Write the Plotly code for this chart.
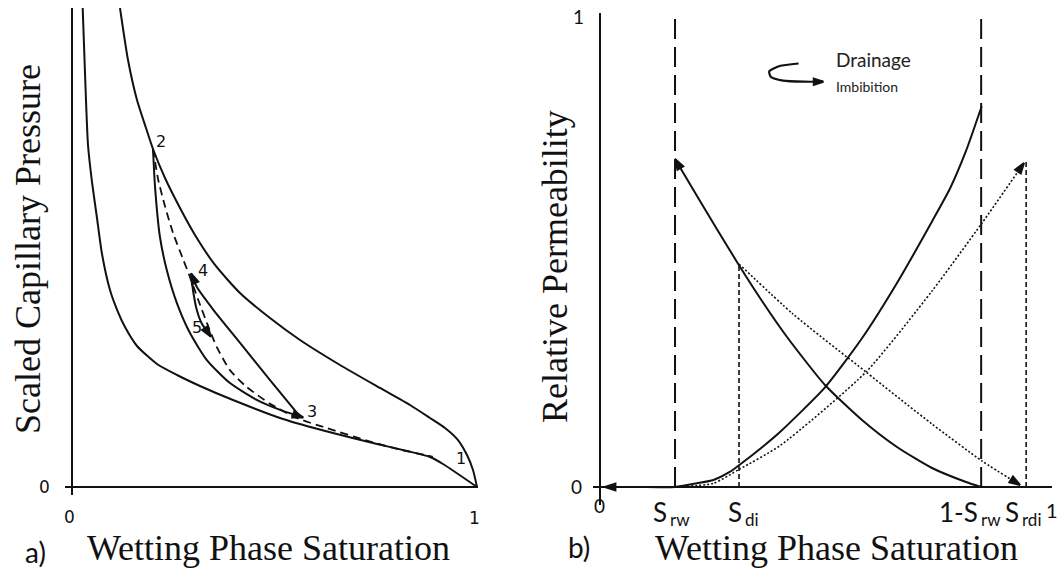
import plotly.graph_objects as go

# ---------------- data: panel a (scaled capillary pressure) ----------------
pc_imb_bound_x = [0.0264, 0.032, 0.0395, 0.0494, 0.0617, 0.0741, 0.0938, 0.1136, 0.1309, 0.1605,
                  0.2099, 0.2593, 0.3160, 0.3975, 0.5210, 0.6444, 0.7531, 0.8272, 0.8840, 0.9160, 1.0]
pc_imb_bound_y = [1.0, 0.8664, 0.7140, 0.6367, 0.5616, 0.4864, 0.4113, 0.3653, 0.3340, 0.2944,
                  0.2568, 0.2338, 0.2109, 0.1816, 0.1420, 0.1127, 0.0898, 0.0752, 0.0626, 0.0480, 0.0]

pc_drain_bound_x = [0.1185, 0.1383, 0.1605, 0.1827, 0.2000, 0.2296, 0.2667, 0.3037, 0.3531, 0.4148,
                    0.4889, 0.5630, 0.6617, 0.7605, 0.8346, 0.8840, 0.9210, 0.9531, 0.9753, 0.9901, 1.0]
pc_drain_bound_y = [1.0, 0.8914, 0.8079, 0.7495, 0.7056, 0.6451, 0.5825, 0.5261, 0.4635, 0.4050,
                    0.3528, 0.3069, 0.2547, 0.2067, 0.1712, 0.1441, 0.1232, 0.0981, 0.0668, 0.0355, 0.0]

scan_2_3_x = [0.200, 0.205, 0.217, 0.234, 0.259, 0.291, 0.333, 0.390, 0.456, 0.514, 0.571]
scan_2_3_y = [0.7056, 0.627, 0.523, 0.453, 0.384, 0.322, 0.265, 0.217, 0.182, 0.161, 0.145]

scan_dash_x = [0.200, 0.213, 0.230, 0.250, 0.275, 0.291, 0.312, 0.337, 0.357, 0.390, 0.431, 0.489,
               0.555, 0.629, 0.728, 0.810, 0.876, 0.891]
scan_dash_y = [0.7056, 0.641, 0.585, 0.529, 0.474, 0.439, 0.390, 0.334, 0.293, 0.244, 0.209, 0.174,
               0.144, 0.123, 0.097, 0.078, 0.066, 0.063]

scan_3_4_x = [0.563, 0.489, 0.415, 0.349, 0.308, 0.294]
scan_3_4_y = [0.147, 0.223, 0.301, 0.370, 0.418, 0.446]

scan_4_5_x = [0.294, 0.300, 0.308, 0.320, 0.343]
scan_4_5_y = [0.440, 0.404, 0.370, 0.342, 0.314]

point_labels = ["1", "2", "3", "4", "5"]
point_label_x = [0.9605, 0.2198, 0.5926, 0.3235, 0.3086]
point_label_y = [0.0585, 0.722, 0.1566, 0.451, 0.334]

# ---------------- data: panel b (relative permeability) ----------------
S_rw = 0.1667
S_di = 0.3089
one_minus_S_rw = 0.847
S_rdi = 0.947
kr_top_Sdi = 0.4745
kr_top_Srdi = 0.697

kr_nw_drain_x = [0.1667, 0.2222, 0.3044, 0.3556, 0.4156, 0.5000, 0.5822, 0.6600, 0.7378, 0.8133, 0.8467]
kr_nw_drain_y = [0.6979, 0.6085, 0.4787, 0.4021, 0.3191, 0.2170, 0.1426, 0.0851, 0.0404, 0.0106, 0.0]

kr_w_drain_x = [0.011, 0.08, 0.1667, 0.215, 0.252, 0.289, 0.3096, 0.363, 0.400, 0.5000, 0.5822,
                0.6600, 0.7378, 0.7778, 0.8133, 0.8482]
kr_w_drain_y = [0.0, 0.0, 0.0, 0.0079, 0.0149, 0.0326, 0.0468, 0.0868, 0.1170, 0.2120, 0.3164,
                0.4340, 0.5650, 0.6350, 0.7150, 0.8102]

kr_w_imb_x = [0.1667, 0.252, 0.3096, 0.400, 0.5911, 0.7378, 0.8489, 0.9422]
kr_w_imb_y = [0.0, 0.0079, 0.0377, 0.0880, 0.2447, 0.4170, 0.5617, 0.6894]

kr_nw_imb_x = [0.3089, 0.4289, 0.5911, 0.7378, 0.8489, 0.9333]
kr_nw_imb_y = [0.4745, 0.368, 0.2447, 0.134, 0.0553, 0.0043]

legend_arrow_x = [0.4413, 0.399, 0.376, 0.380, 0.4067, 0.4529, 0.4962]
legend_arrow_y = [0.9011, 0.8957, 0.884, 0.8723, 0.8647, 0.8623, 0.8623]

# x tick labels of panel b: (main text, subscript)
b_tick_main = ["S", "S", "1-S", "S"]
b_tick_sub = ["rw", "di", "rw", "rdi"]

# ---------------- layout geometry ----------------
W, H = 1059, 570
A_x0, A_x1, A_y0, A_y1 = 65, 478, 8, 495
A_xr = [-0.01728, 1.00247]
A_yr = [-0.0167, 1.0]
B_x0, B_x1, B_y0, B_y1 = 593, 1052, 13, 505
B_xr = [-0.01556, 1.00444]
B_yr = [-0.0383, 1.00851]

A_sx = (A_x1 - A_x0) / (A_xr[1] - A_xr[0])
A_sy = (A_y1 - A_y0) / (A_yr[1] - A_yr[0])
B_sx = (B_x1 - B_x0) / (B_xr[1] - B_xr[0])
B_sy = (B_y1 - B_y0) / (B_yr[1] - B_yr[0])


def to_px(panel, x, y):
    if panel == "a":
        return A_x0 + (x - A_xr[0]) * A_sx, A_y0 + (A_yr[1] - y) * A_sy
    return B_x0 + (x - B_xr[0]) * B_sx, B_y0 + (B_yr[1] - y) * B_sy


BLACK = "#111111"
fig = go.Figure()


def line(x, y, xa, ya, dash="solid", width=2.0, spline=True):
    fig.add_trace(go.Scatter(
        x=x, y=y, xaxis=xa, yaxis=ya, mode="lines",
        line=dict(color=BLACK, width=width, dash=dash, shape="spline" if spline else "linear",
                  smoothing=0.6),
        showlegend=False, hoverinfo="skip"))


def arrowhead(xs, ys, xa, ya, size=11):
    fig.add_trace(go.Scatter(
        x=[xs[-2], xs[-1]], y=[ys[-2], ys[-1]], xaxis=xa, yaxis=ya, mode="markers",
        marker=dict(symbol="arrow", size=size, angleref="previous", color=BLACK,
                    opacity=[0.0, 1.0], line=dict(width=2, color=BLACK)),
        showlegend=False, hoverinfo="skip", cliponaxis=False))


# panel a curves
line(pc_imb_bound_x, pc_imb_bound_y, "x", "y")
line(pc_drain_bound_x, pc_drain_bound_y, "x", "y")
line(scan_2_3_x, scan_2_3_y, "x", "y")
line(scan_dash_x, scan_dash_y, "x", "y", dash="8px,5px", width=1.8)
line(scan_3_4_x, scan_3_4_y, "x", "y")
line(scan_4_5_x, scan_4_5_y, "x", "y")
arrowhead(scan_2_3_x, scan_2_3_y, "x", "y")
arrowhead(scan_3_4_x, scan_3_4_y, "x", "y")
arrowhead(scan_4_5_x, scan_4_5_y, "x", "y")

# panel b vertical markers
line([S_rw, S_rw], [0, 1.0], "x2", "y2", dash="20px,8px", width=2, spline=False)
line([one_minus_S_rw, one_minus_S_rw], [0, 1.0], "x2", "y2", dash="20px,8px", width=2, spline=False)
line([S_di, S_di], [0, kr_top_Sdi], "x2", "y2", dash="5px,3px", width=1.6, spline=False)
line([S_rdi, S_rdi], [0, kr_top_Srdi], "x2", "y2", dash="5px,3px", width=1.6, spline=False)

# panel b curves
line(kr_nw_drain_x, kr_nw_drain_y, "x2", "y2")
line(kr_w_drain_x, kr_w_drain_y, "x2", "y2")
line(kr_w_imb_x, kr_w_imb_y, "x2", "y2", dash="2px,2px", width=1.6)
line(kr_nw_imb_x, kr_nw_imb_y, "x2", "y2", dash="2px,2px", width=1.6)
line(legend_arrow_x, legend_arrow_y, "x2", "y2", width=2.2)
arrowhead(kr_nw_drain_x[::-1], kr_nw_drain_y[::-1], "x2", "y2")
arrowhead(kr_w_drain_x[2::-1], kr_w_drain_y[2::-1], "x2", "y2")
arrowhead(kr_w_imb_x, kr_w_imb_y, "x2", "y2")
arrowhead(kr_nw_imb_x, kr_nw_imb_y, "x2", "y2")
arrowhead(legend_arrow_x, legend_arrow_y, "x2", "y2", size=10)

annotations = []


def text_px(t, px, py, size, family, angle=0, color=BLACK, xanchor="center"):
    annotations.append(dict(text=t, x=px / W, y=1 - py / H, xref="paper", yref="paper",
                            showarrow=False, xanchor=xanchor, yanchor="middle", textangle=angle,
                            font=dict(size=size, family=family, color=color)))


def text(t, x, y, panel, size, family, angle=0, color=BLACK):
    px, py = to_px(panel, x, y)
    text_px(t, px, py, size, family, angle, color)


SANS = "DejaVu Sans"
CAL = "Lato"
SERIF = "Liberation Serif"

# panel a texts
text("0", -0.0667, 0.0, "a", 17, SANS)
text("0", -0.005, -0.0626, "a", 17, SANS)
text("1", 0.995, -0.0647, "a", 17, SANS)
for lab, lx, ly in zip(point_labels, point_label_x, point_label_y):
    text(lab, lx, ly, "a", 16, SANS)
text("a)", -0.0889, -0.1357, "a", 28, CAL)
text("Wetting Phase Saturation", 0.484, -0.127, "a", 36, SERIF)
text("Scaled Capillary Pressure", -0.1086, 0.497, "a", 36, SERIF, angle=-90)

# panel b texts
text("1", -0.0467, 1.0, "b", 19, CAL)
text("0", -0.0518, 0.0, "b", 19, CAL)
text("0", -0.002, -0.04, "b", 19, CAL)
b_tick_split_px = [668, 743, 979, 1020]
for main, sub, sp in zip(b_tick_main, b_tick_sub, b_tick_split_px):
    text_px(main, sp + 1, 512, 26, CAL, xanchor="right")
    text_px(sub, sp, 519, 17, CAL, xanchor="left")
text_px("1", 1052, 510, 20, CAL)
text("b)", -0.0467, -0.1277, "b", 28, CAL)
text("Wetting Phase Saturation", 0.5256, -0.13, "b", 36, SERIF)
text("Relative Permeability", -0.1, 0.468, "b", 36, SERIF, angle=-90)
text("Drainage", 0.6067, 0.9106, "b", 19, CAL, color="#222222")
text("Imbibition", 0.5933, 0.852, "b", 14, CAL, color="#222222")


def ax(x0, x1, rng):
    return dict(domain=[x0 / W, x1 / W], range=rng, showgrid=False, showticklabels=False,
                ticks="", zeroline=True, zerolinecolor=BLACK, zerolinewidth=2.2, showline=False)


def ay(y0, y1, rng):
    return dict(domain=[(H - y1) / H, (H - y0) / H], range=rng, showgrid=False, showticklabels=False,
                ticks="", zeroline=True, zerolinecolor=BLACK, zerolinewidth=2.2, showline=False)


fig.update_layout(
    width=W, height=H, autosize=False,
    margin=dict(l=0, r=0, t=0, b=0),
    paper_bgcolor="white", plot_bgcolor="rgba(0,0,0,0)",
    xaxis=dict(ax(A_x0, A_x1, A_xr), anchor="y"),
    yaxis=dict(ay(A_y0, A_y1, A_yr), anchor="x"),
    xaxis2=dict(ax(B_x0, B_x1, B_xr), anchor="y2"),
    yaxis2=dict(ay(B_y0, B_y1, B_yr), anchor="x2"),
    annotations=annotations,
    showlegend=False,
)

fig.write_html("out.html")
